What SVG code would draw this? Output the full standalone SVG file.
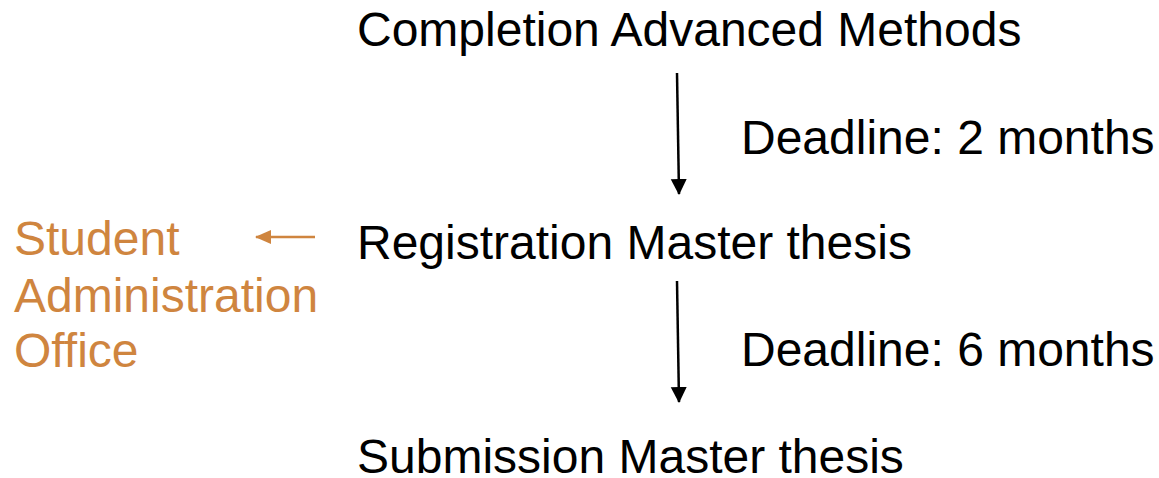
<svg xmlns="http://www.w3.org/2000/svg" width="1159" height="478" viewBox="0 0 1159 478">
<style>
text{font-family:"Liberation Sans",Arial,sans-serif;font-size:48px;fill:#000}
.o{fill:#CF853F}
.c{stroke:#000;stroke-width:2.5;fill:none}
.co{stroke:#CF853F;stroke-width:2.5;fill:none}
</style>
<defs>
<marker id="ab" markerUnits="userSpaceOnUse" markerWidth="16" markerHeight="18" refX="15" refY="8" orient="auto" viewBox="0 0 16 16"><path d="M0,0 L16,8 L0,16 Z" fill="#000"/></marker>
<marker id="ao" markerUnits="userSpaceOnUse" markerWidth="16" markerHeight="16" refX="15" refY="7" orient="auto" viewBox="0 0 16 14"><path d="M0,0 L16,7 L0,14 Z" fill="#CF853F"/></marker>
</defs>
<g id="n1"><text x="357" y="46">Completion Advanced Methods</text></g>
<g id="n2"><text x="357" y="259">Registration Master thesis</text></g>
<g id="n3"><text x="357" y="473">Submission Master thesis</text></g>
<g id="l1"><text x="741" y="154">Deadline: 2 months</text></g>
<g id="l2"><text x="741" y="366">Deadline: 6 months</text></g>
<g id="n4"><text class="o" x="14" y="255">Student</text><text class="o" x="14" y="312">Administration</text><text class="o" x="14" y="367">Office</text></g>
<g id="connectors">
<path class="c" d="M677,73 L679,194" marker-end="url(#ab)"/>
<path class="c" d="M677,281 L679,402" marker-end="url(#ab)"/>
<path class="co" d="M315,237 L256,237" marker-end="url(#ao)"/>
</g>
</svg>
